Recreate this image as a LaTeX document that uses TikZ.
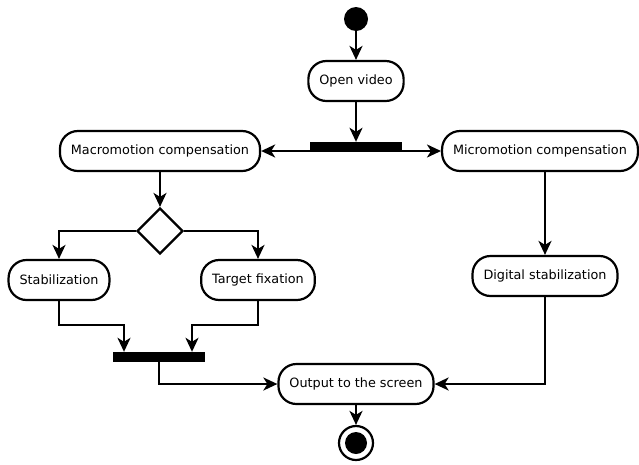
\documentclass[tikz,border=0pt]{standalone}
\usepackage{fontspec}
\setmainfont{DejaVu Sans}
\usetikzlibrary{arrows.meta,positioning,shapes.geometric}
\tikzset{
  actbox/.style={draw,line width=2.2pt,rounded corners=18pt,fill=white,
    minimum height=40pt,inner xsep=11pt,font=\fontsize{12.8}{15}\selectfont},
  syncbar/.style={fill=black,minimum width=92pt,minimum height=10pt,inner sep=0pt},
  decision/.style={diamond,draw,line width=2.2pt,minimum size=46pt,inner sep=0pt},
  flowarrow/.style={-{Stealth[length=14pt,width=13pt,inset=4pt]},line width=2.2pt}
}

\begin{document}
\begin{tikzpicture}[x=1pt,y=-1pt]
\useasboundingbox (0,0) rectangle (639,464);
\node[circle,fill,minimum size=24pt,inner sep=0pt] (start) at (356,19) {};
\node[actbox] (open) at (356,81) {Open video};
\node[syncbar] (fork) at (356,147) {};
\node[actbox] (macro) at (160,151) {Macromotion compensation};
\node[actbox] (micro) at (540,151) {Micromotion compensation};
\node[decision] (dec) at (160,231) {};
\node[actbox] (stab) at (59,280) {Stabilization};
\node[actbox] (target) at (258,280) {Target fixation};
\node[actbox] (digital) at (545,276) {Digital stabilization};
\node[syncbar] (join) at (159,357) {};
\node[actbox] (output) at (356,384) {Output to the screen};
\node[circle,draw,line width=2.2pt,minimum size=34pt,inner sep=0pt] (final) at (356,443) {};
\node[circle,fill,minimum size=22pt,inner sep=0pt] (finaldot) at (final) {};
% flow
\draw[flowarrow] (start) -- (open);
\draw[flowarrow] (open) -- (fork);
\draw[flowarrow] (fork.west |- macro) -- (macro);
\draw[flowarrow] (fork.east |- micro) -- (micro);
\draw[flowarrow] (macro) -- (dec);
\draw[flowarrow] (dec.west) -| (stab);
\draw[flowarrow] (dec.east) -| (target);
\draw[flowarrow] (stab.south) -- ++(0,24) -| ([xshift=-35pt]join.north);
\draw[flowarrow] (target.south) -- ++(0,24) -| ([xshift=33pt]join.north);
\draw[flowarrow] (join.south) |- (output.west);
\draw[flowarrow] (micro.south -| digital) -- (digital);
\draw[flowarrow] (digital.south) |- (output.east);
\draw[flowarrow] (output) -- (final);
\end{tikzpicture}
\end{document}
